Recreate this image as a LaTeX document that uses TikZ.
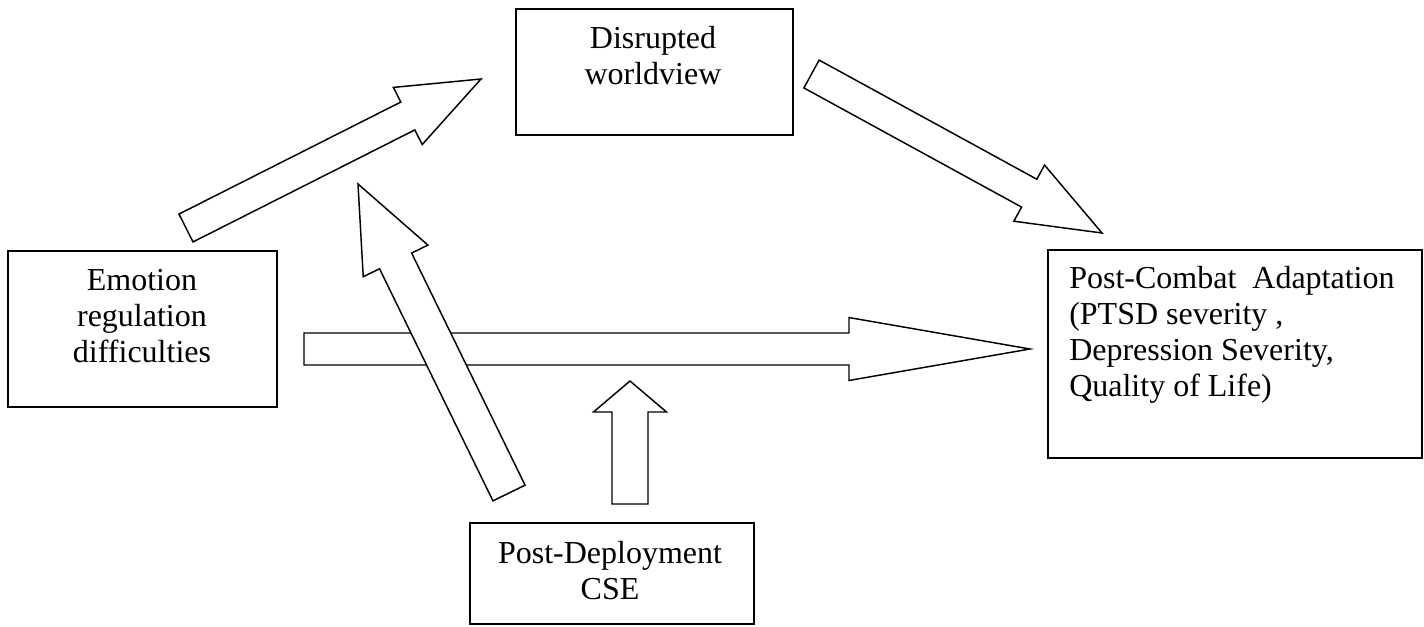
\documentclass[tikz,border=0pt]{standalone}
\usepackage{fontspec}
\setmainfont{Liberation Serif}
\usetikzlibrary{calc}

\tikzset{
  box/.style={draw, line width=1.3pt, inner sep=0pt, anchor=north west},
  lbl/.style={font=\fontsize{24}{27}\selectfont, inner sep=0pt, anchor=base},
  blockarrowstyle/.style={draw, fill=white, line width=1.1pt, line join=miter},
}

% Block arrow: #1 tail coordinate, #2 tip coordinate,
% #3 half shaft width, #4 half head width, #5 head length
\newcommand\blockarrow[5]{%
  \coordinate (ba-base) at ($(#2)!#5!(#1)$);
  \draw[blockarrowstyle]
    ($(#1)!#3!90:(#2)$) -- ($(ba-base)!#3!-90:(#1)$)
    -- ($(ba-base)!#4!-90:(#1)$) -- (#2)
    -- ($(ba-base)!#4!90:(#1)$) -- ($(ba-base)!#3!90:(#1)$)
    -- ($(#1)!#3!-90:(#2)$) -- cycle;
}

\begin{document}
\begin{tikzpicture}[x=0.75pt,y=-0.75pt]
\useasboundingbox (0,0) rectangle (1424,626);

% concept boxes
\node[box, minimum width=207.75pt, minimum height=94.5pt] (dw) at (515,8) {};
\node[box, minimum width=201.75pt, minimum height=117pt] (er) at (7,250) {};
\node[box, minimum width=280.5pt, minimum height=156pt] (pc) at (1047,249) {};
\node[box, minimum width=213pt, minimum height=75.75pt] (cse) at (469,522) {};

% box texts (anchored at the baseline of their last line)
\node[lbl, align=center] (dw-t) at (653,84) {Disrupted\\worldview};
\node[lbl, align=center] (er-t) at (142,362) {Emotion\\regulation\\difficulties};
\node[lbl, align=left, anchor=base west] (pc-t) at (1069,396)
  {Post-Combat\ \ Adaptation\\(PTSD severity ,\\Depression Severity,\\Quality of Life)};
\node[lbl, align=center] (cse-t) at (610,599) {Post-Deployment\\CSE};

% arrow end points
\coordinate (a1t) at (186,228);   \coordinate (a1h) at (481,79);
\coordinate (a2t) at (811.5,74);  \coordinate (a2h) at (1102,233);
\coordinate (a3t) at (509,493);   \coordinate (a3h) at (358,184);
\coordinate (a4t) at (304,349);   \coordinate (a4h) at (1030,349);
\coordinate (a5t) at (630,504);   \coordinate (a5h) at (630,381);

% emotion regulation -> outcome (drawn first, crossed by the CSE arrow)
\blockarrow{a4t}{a4h}{12pt}{23.6pt}{135.75pt}
% emotion regulation -> disrupted worldview
\blockarrow{a1t}{a1h}{11.7pt}{24pt}{61.5pt}
% disrupted worldview -> outcome
\blockarrow{a2t}{a2h}{11.9pt}{24pt}{62.25pt}
% CSE moderating the first path
\blockarrow{a3t}{a3h}{13.4pt}{27pt}{64.2pt}
% CSE moderating the direct path
\blockarrow{a5t}{a5h}{13.5pt}{27.4pt}{23.25pt}
\end{tikzpicture}
\end{document}
